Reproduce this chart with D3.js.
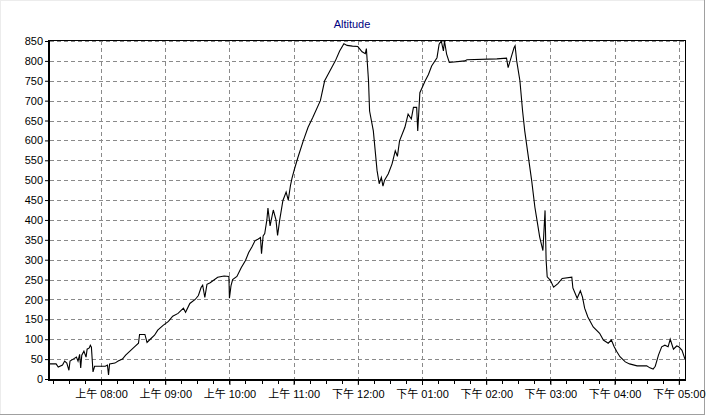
<!DOCTYPE html>
<html>
<head>
<meta charset="utf-8">
<script src="https://cdn.jsdelivr.net/npm/d3@7"></script>
<style>
  body { margin: 0; background: #fff; }
  svg { display: block; font-family: "Liberation Sans", Arial, sans-serif; }
</style>
</head>
<body>
<div id="chart"></div>
<script>
// Altitude over the day (time of day, metres)
var times = [
  "07:12","07:18","07:20","07:24","07:26","07:28","07:30","07:31","07:34","07:37",
  "07:38:30","07:40","07:41","07:42","07:44","07:46","07:47","07:49","07:50","07:51",
  "07:52:30","07:54","07:59","08:04","08:06","08:07","08:08","08:13","08:16","08:20",
  "08:23","08:27","08:31","08:35","08:36","08:41","08:43","08:46","08:50","08:53",
  "08:58","09:03","09:07","09:12","09:17","09:19","09:23","09:28","09:31","09:33:30",
  "09:35","09:37","09:39","09:42","09:49","09:55","09:59:30","10:00","10:01:30","10:03",
  "10:07","10:11","10:15","10:18","10:21","10:24","10:27","10:29","10:30","10:31:30",
  "10:33","10:35","10:36","10:38","10:41","10:43:30","10:45","10:47","10:50","10:53",
  "10:55","10:57","10:58:30","11:01","11:04","11:09","11:13:30","11:18","11:25","11:29",
  "11:34","11:39","11:43","11:47","11:50","11:55","12:00","12:04","12:07","12:08",
  "12:10","12:11","12:14:30","12:18","12:20","12:22","12:23:30","12:25","12:28:30","12:32",
  "12:35","12:37","12:39","12:44","12:47","12:50","12:52","12:55","12:56","12:58",
  "13:03","13:06","13:09","13:14","13:16","13:18","13:20","13:21","13:23","13:25:30",
  "13:40","13:42","14:10","14:19","14:20:30","14:24","14:26","14:27","14:28:30","14:31:30",
  "14:34","14:36","14:39","14:42:30","14:45:30","14:47","14:50","14:53","14:55","14:56",
  "14:57","15:00","15:03","15:07","15:11","15:20","15:21","15:25","15:28","15:30",
  "15:32","15:35","15:40","15:46","15:49:30","15:54","15:57","15:59:30","16:02","16:05",
  "16:10","16:14","16:21","16:30","16:33","16:36","16:38","16:41","16:44","16:47",
  "16:50","16:52","16:55","16:58","17:00","17:03","17:06"
];
var altitude = [
  38,38,30,35,45,40,22,45,50,55,
  45,62,28,60,70,55,75,78,85,80,
  18,32,32,32,35,10,38,40,45,50,
  60,70,80,90,112,112,92,100,110,123,
  135,145,158,165,178,168,190,200,210,230,
  236,205,238,242,256,259,258,203,235,250,
  258,280,298,318,332,348,352,356,315,360,
  366,400,430,385,425,400,361,400,449,470,
  450,486,505,530,557,599,633,658,700,750,
  775,800,825,843,839,837,836,823,818,831,
  750,674,624,524,491,507,485,500,516,541,
  574,560,599,633,666,654,683,683,624,720,
  750,766,787,808,842,850,825,850,817,796,
  800,803,805,807,783,815,833,838,800,750,
  674,624,566,499,432,407,357,323,424,299,
  257,248,231,240,253,256,229,203,222,206,
  178,156,131,115,98,90,98,82,69,56,
  43,38,33,33,28,25,32,60,81,85,
  81,100,75,83,81,72,48
];

var timeDomain = ["07:12:18", "17:05:48"];
var yTicks = [0,50,100,150,200,250,300,350,400,450,500,550,600,650,700,750,800,850];
var xTickTimes = ["08:00","09:00","10:00","11:00","12:00","13:00","14:00","15:00","16:00","17:00"];
var xTickLabels = ["上午 08:00","上午 09:00","上午 10:00","上午 11:00","下午 12:00",
                   "下午 01:00","下午 02:00","下午 03:00","下午 04:00","下午 05:00"];

var width = 707, height = 417;
var plotLeft = 50, plotRight = 685, plotTop = 41, plotBottom = 379;

var p1 = d3.timeParse("%H:%M:%S"), p2 = d3.timeParse("%H:%M");
function parseTime(s) { return p1(s) || p2(s); }

var data = times.map(function(t, i) { return { t: parseTime(t), v: altitude[i] }; });

var x = d3.scaleTime()
    .domain(timeDomain.map(parseTime))
    .range([plotLeft, plotRight]);
var y = d3.scaleLinear()
    .domain([0, 850])
    .range([plotBottom, plotTop]);

var svg = d3.select("#chart").append("svg")
    .attr("width", width)
    .attr("height", height);

// window frame
svg.append("line").attr("x1", 0.5).attr("y1", 0).attr("x2", 0.5).attr("y2", 414)
    .style("stroke", "#ececec");
svg.append("line").attr("x1", 0).attr("y1", 0.5).attr("x2", 705).attr("y2", 0.5)
    .style("stroke", "#ececec");
svg.append("line").attr("x1", 704.5).attr("y1", 0).attr("x2", 704.5).attr("y2", 415)
    .style("stroke", "#a0a0a0");
svg.append("line").attr("x1", 0).attr("y1", 414.5).attr("x2", 705).attr("y2", 414.5)
    .style("stroke", "#a0a0a0");

// title
svg.append("text")
    .attr("x", 352)
    .attr("y", 28)
    .attr("text-anchor", "middle")
    .style("font-size", "11px")
    .style("fill", "#000080")
    .text("Altitude");

// grid lines
svg.append("g").selectAll("line").data(yTicks.slice(1)).enter().append("line")
    .attr("x1", plotLeft).attr("x2", plotRight)
    .attr("y1", function(d) { return Math.round(y(d)) + 0.5; })
    .attr("y2", function(d) { return Math.round(y(d)) + 0.5; })
    .style("stroke", "#8a8a8a")
    .style("stroke-dasharray", "4,3");

svg.append("g").selectAll("line").data(xTickTimes).enter().append("line")
    .attr("x1", function(d) { return Math.round(x(parseTime(d))) + 0.5; })
    .attr("x2", function(d) { return Math.round(x(parseTime(d))) + 0.5; })
    .attr("y1", plotTop).attr("y2", plotBottom)
    .style("stroke", "#8a8a8a")
    .style("stroke-dasharray", "4,3");

// the altitude line
svg.append("clipPath").attr("id", "clip")
  .append("rect")
    .attr("x", plotLeft).attr("y", plotTop - 1)
    .attr("width", plotRight - plotLeft).attr("height", plotBottom - plotTop + 1);

var line = d3.line()
    .x(function(d) { return x(d.t); })
    .y(function(d) { return y(d.v); });

svg.append("path")
    .datum(data)
    .attr("clip-path", "url(#clip)")
    .attr("d", line)
    .style("fill", "none")
    .style("stroke", "#000")
    .style("stroke-width", 1.1);

// frame: thin top and right, thick left and bottom
svg.append("line").attr("x1", plotLeft).attr("x2", plotRight + 0.5)
    .attr("y1", plotTop - 0.5).attr("y2", plotTop - 0.5)
    .style("stroke", "#000");
svg.append("line").attr("x1", plotRight + 0.5).attr("x2", plotRight + 0.5)
    .attr("y1", plotTop - 1).attr("y2", plotBottom)
    .style("stroke", "#000");

// y axis
var yAxis = d3.axisLeft(y).tickValues(yTicks).tickSize(4).tickPadding(2);
var gy = svg.append("g")
    .attr("transform", "translate(" + (plotLeft - 1) + ",0)")
    .call(yAxis);
gy.select(".domain").remove();
gy.selectAll("line").style("stroke", "#000");
gy.selectAll("text").style("font-size", "11px").style("fill", "#000")
    .style("font-family", "Liberation Sans, Arial, sans-serif");

// x axis, with quarter-hour minor ticks
var minorTicks = d3.timeMinute.every(15).range(x.domain()[0], x.domain()[1]);
svg.append("g").selectAll("line").data(minorTicks).enter().append("line")
    .attr("x1", function(d) { return Math.round(x(d)) + 0.5; })
    .attr("x2", function(d) { return Math.round(x(d)) + 0.5; })
    .attr("y1", plotBottom).attr("y2", plotBottom + 5)
    .style("stroke", "#000");

var xAxis = d3.axisBottom(x)
    .tickValues(xTickTimes.map(parseTime))
    .tickFormat(function(d, i) { return xTickLabels[i]; })
    .tickSize(5).tickPadding(5);
var gx = svg.append("g")
    .attr("transform", "translate(0," + (plotBottom + 1) + ")")
    .call(xAxis);
gx.select(".domain").remove();
gx.selectAll("line").style("stroke", "#000");
gx.selectAll("text").style("font-size", "11px").style("fill", "#000")
    .style("font-family", "Liberation Sans, 'Noto Sans CJK SC', sans-serif");

svg.append("rect")
    .attr("x", plotLeft - 2).attr("y", plotTop - 1)
    .attr("width", 2).attr("height", plotBottom - plotTop + 3)
    .style("fill", "#000");
svg.append("rect")
    .attr("x", plotLeft - 2).attr("y", plotBottom)
    .attr("width", plotRight - plotLeft + 3).attr("height", 2)
    .style("fill", "#000");
</script>
</body>
</html>
